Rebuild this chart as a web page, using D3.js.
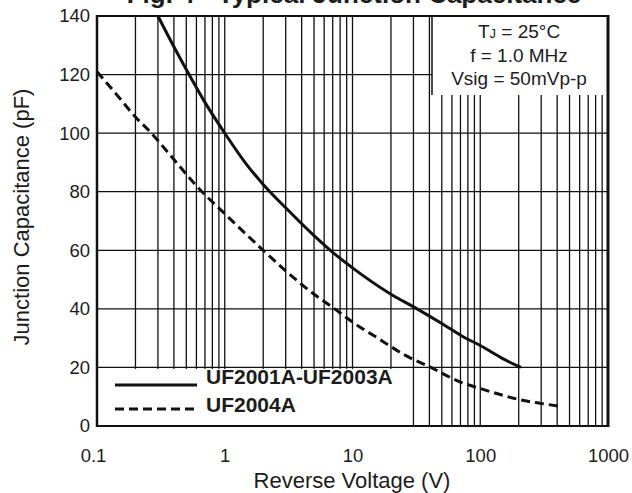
<!DOCTYPE html>
<html>
<head>
<meta charset="utf-8">
<script src="https://cdn.jsdelivr.net/npm/d3@7"></script>
<style>
  html, body { margin: 0; padding: 0; background: #fff; }
  svg { display: block; font-family: "Liberation Sans", Arial, Helvetica, sans-serif; }
</style>
</head>
<body>
<svg id="chart" width="632" height="493"></svg>
<script>
// ---- data ----
const xTicks = [0.1, 1, 10, 100, 1000];
const xTickLabels = ["0.1", "1", "10", "100", "1000"];
const yTicks = [0, 20, 40, 60, 80, 100, 120, 140];
const gridY = [20, 40, 60, 80, 100, 120];

const seriesNames = ["UF2001A-UF2003A", "UF2004A"];

const solidV = [0.3, 0.4, 0.55, 0.7, 1, 1.5, 2, 3, 5, 7, 10, 20, 32, 50, 74, 100, 150, 208];
const solidC = [140, 129.5, 118.5, 110.5, 100, 89, 82.5, 74.5, 65, 59.3, 54, 45, 40, 35, 30.4, 27.5, 23, 20];

const dashV = [0.1, 0.15, 0.2, 0.26, 0.4, 0.6, 1, 2, 3, 5, 7, 10, 16.6, 25, 41, 70, 100, 150, 208, 300, 413];
const dashC = [121, 112, 105.5, 100.5, 91, 82, 72.5, 60, 53, 45, 40.5, 35.5, 29.4, 24.5, 20, 15, 12.8, 10.5, 8.9, 7.7, 6.8];

const conditions = ["= 25°C", "f = 1.0 MHz", "Vsig = 50mVp-p"];
const titleText = "Fig. 4 - Typical Junction Capacitance";
const xTitle = "Reverse Voltage (V)";
const yTitle = "Junction Capacitance (pF)";

// ---- layout ----
const L = 97, R = 608, T = 16, B = 426;
const svg = d3.select("#chart");
const x = d3.scaleLog().domain([0.1, 1000]).range([L, R]);
const y = d3.scaleLinear().domain([0, 140]).range([B, T]);
const ink = "#111";
const textInk = "#1c1c1c";

// title (cut off at the top in the reference)
svg.append("text").attr("x", 354).attr("y", 3)
  .attr("text-anchor", "middle").attr("font-size", 26).attr("font-weight", "bold")
  .attr("fill", textInk).text(titleText);

// grid: vertical minor lines
const gridX = [];
[0.1, 1, 10, 100].forEach(d => {
  for (let k = 1; k <= 9; k++) { const v = k * d; if (v > 0.1 + 1e-9) gridX.push(v); }
});
const grid = svg.append("g").attr("stroke", ink).attr("stroke-width", 1.3);
grid.selectAll("line.v").data(gridX).join("line").attr("class", "v")
  .attr("x1", d => x(d)).attr("x2", d => x(d)).attr("y1", T).attr("y2", B);
grid.selectAll("line.h").data(gridY).join("line").attr("class", "h")
  .attr("x1", L).attr("x2", R).attr("y1", d => y(d)).attr("y2", d => y(d));

// white boxes (annotation and legend)
const annX0 = 432;
svg.append("rect").attr("x", annX0).attr("y", T + 1).attr("width", R - annX0 - 1).attr("height", 95 - T - 1)
  .attr("fill", "#fff");
svg.append("line").attr("x1", annX0).attr("x2", annX0).attr("y1", T).attr("y2", 95)
  .attr("stroke", ink).attr("stroke-width", 1.5);

svg.append("rect").attr("x", L + 1).attr("y", y(20) + 1.5).attr("width", 407 - L - 1).attr("height", B - y(20) - 2)
  .attr("fill", "#fff");

// frame
svg.append("line").attr("x1", L).attr("x2", R).attr("y1", T).attr("y2", T).attr("stroke", ink).attr("stroke-width", 2);
svg.append("line").attr("x1", L).attr("x2", R).attr("y1", B).attr("y2", B).attr("stroke", ink).attr("stroke-width", 2);
svg.append("line").attr("x1", L).attr("x2", L).attr("y1", T - 1).attr("y2", B + 1).attr("stroke", ink).attr("stroke-width", 2.5);
svg.append("line").attr("x1", R).attr("x2", R).attr("y1", T - 1).attr("y2", B + 1).attr("stroke", ink).attr("stroke-width", 3);

// curves
const line = d3.line().x(d => x(d[0])).y(d => y(d[1])).curve(d3.curveMonotoneX);
svg.append("path").datum(d3.zip(solidV, solidC)).attr("d", line)
  .attr("fill", "none").attr("stroke", ink).attr("stroke-width", 3);
svg.append("path").datum(d3.zip(dashV, dashC)).attr("d", line)
  .attr("fill", "none").attr("stroke", ink).attr("stroke-width", 3).attr("stroke-dasharray", "9,5");

// axes (labels only)
const yAxis = svg.append("g").attr("transform", `translate(${L},0)`)
  .call(d3.axisLeft(y).tickValues(yTicks).tickSize(0).tickPadding(7).tickFormat(d3.format("d")));
const xAxis = svg.append("g").attr("transform", `translate(0,${B})`)
  .call(d3.axisBottom(x).tickValues(xTicks).tickSize(0).tickPadding(23).tickFormat((d, i) => xTickLabels[i]));
[yAxis, xAxis].forEach(a => {
  a.select(".domain").remove();
  a.selectAll("text").attr("font-size", 18.5).attr("fill", textInk)
    .attr("font-family", "'Liberation Sans', Arial, sans-serif");
});
xAxis.selectAll("text").filter((d, i) => i === 0).attr("dx", "-4");

// axis titles
svg.append("text").attr("x", 352).attr("y", 488).attr("text-anchor", "middle")
  .attr("font-size", 22).attr("fill", textInk).text(xTitle);
svg.append("text").attr("transform", "translate(29,217) rotate(-90)").attr("text-anchor", "middle")
  .attr("font-size", 22).attr("fill", textInk).text(yTitle);

// conditions box text
const cx = 519;
const t1 = svg.append("text").attr("x", cx).attr("y", 38).attr("text-anchor", "middle")
  .attr("font-size", 19).attr("fill", textInk);
t1.append("tspan").text("T");
t1.append("tspan").attr("font-size", 13).text("J");
t1.append("tspan").text(" " + conditions[0]);
svg.append("text").attr("x", cx).attr("y", 62).attr("text-anchor", "middle")
  .attr("font-size", 19).attr("fill", textInk).text(conditions[1]);
svg.append("text").attr("x", cx).attr("y", 85).attr("text-anchor", "middle")
  .attr("font-size", 19).attr("fill", textInk).text(conditions[2]);

// legend
const leg = svg.append("g");
const legY = [385, 409];
const legDash = [null, "9,5"];
seriesNames.forEach((name, i) => {
  leg.append("line").attr("x1", 115).attr("x2", 197).attr("y1", legY[i]).attr("y2", legY[i])
    .attr("stroke", ink).attr("stroke-width", 3).attr("stroke-dasharray", legDash[i]);
  leg.append("text").attr("x", 206).attr("y", legY[i] + (i === 0 ? -1 : 3))
    .attr("font-size", 21).attr("font-weight", "bold").attr("fill", textInk).text(name);
});
</script>
</body>
</html>
